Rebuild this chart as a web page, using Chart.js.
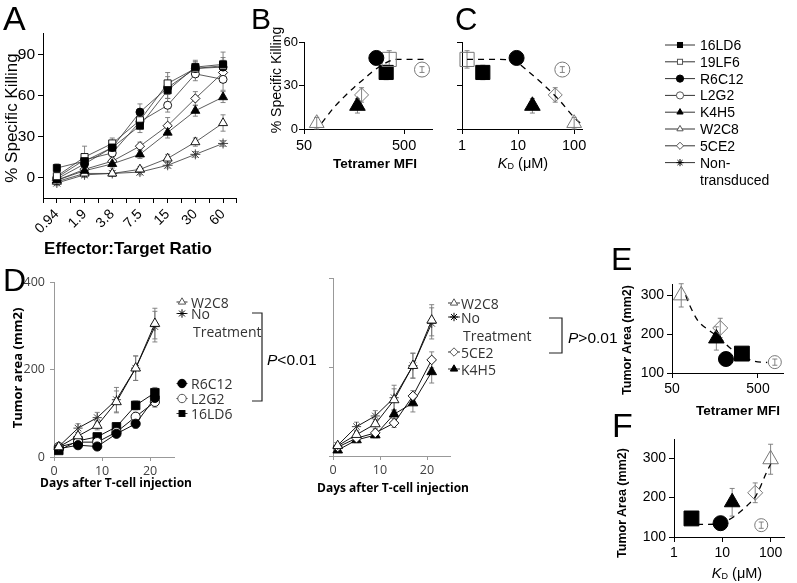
<!DOCTYPE html>
<html lang="en">
<head>
<meta charset="UTF-8" />
<title>TCR clones - killing and tumor growth</title>
<script src="https://cdn.jsdelivr.net/npm/chart.js"></script>
<style>
  body { margin: 0; background: #fff; width: 797px; height: 583px; position: relative; overflow: hidden; }
  canvas { position: absolute; }
  #overlay { position: absolute; left: 0; top: 0; pointer-events: none; }
</style>
</head>
<body>
<canvas id="chartA" width="243" height="215" style="left:0;top:23px"></canvas>
<canvas id="chartB" width="167" height="121" style="left:276px;top:30px"></canvas>
<canvas id="chartC" width="147" height="121" style="left:446px;top:30px"></canvas>
<canvas id="chartD1" width="159" height="207" style="left:22px;top:272px"></canvas>
<canvas id="chartD2" width="139" height="210" style="left:318px;top:268px"></canvas>
<canvas id="chartE" width="157" height="122" style="left:638px;top:273px"></canvas>
<canvas id="chartF" width="156" height="131" style="left:640px;top:428px"></canvas>
<svg id="overlay" width="797" height="583"></svg>

<script>
// ---- panel A: % specific killing vs effector:target ratio
const ratioLabels = ['0.94', '1.9', '3.8', '7.5', '15', '30', '60'];
const killing16LD6 = [7, 12, 22, 38, 64, 81, 83];
const killing19LF6 = [1, 15, 25, 42, 69, 80, 82];
const killingR6C12 = [-1, 10, 22, 48, 66, 80, 81];
const killingL2G2 = [0, 13, 18, 41, 53, 76, 72];
const killingK4H5 = [-2, 5, 10, 17, 33, 49, 59];
const killingW2C8 = [-3, 3, 3, 6, 14, 26, 40];
const killing5CE2 = [-2, 6, 12, 23, 38, 58, 77];
const killingNT = [-4, 2, 3, 4, 9, 17, 25];
const errA16LD6 = [3, 4, 4, 5, 6, 5, 5];
const errA19LF6 = [3, 8, 4, 5, 8, 4, 10];
const errAR6C12 = [2, 3, 3, 6, 8, 5, 5];
const errAL2G2 = [3, 4, 4, 5, 5, 5, 8];
const errAK4H5 = [2, 3, 3, 3, 4, 4, 4];
const errAW2C8 = [2, 2, 2, 2, 3, 3, 6];
const errA5CE2 = [2, 3, 3, 3, 6, 5, 5];
const errANT = [2, 2, 2, 2, 2, 2, 2];

// ---- panels B and C: killing vs tetramer MFI and KD
const scatterClones = ['16LD6', '19LF6', 'R6C12', 'L2G2', 'K4H5', 'W2C8', '5CE2'];
const tetramerMFI = [331, 355, 264, 755, 171, 67, 188];
const kdMicroM = [2.35, 1.23, 9.4, 61.5, 18, 100, 46];
const killingAt = [39, 48, 49, 41, 16, 4, 23.5];
const killingAtErr = [5, 6, 2, 2, 5, 4, 5];
const fitMfiX = [75, 100, 125, 160, 210, 245, 300, 360, 420, 600, 840];
const fitMfiY = [4, 15, 22, 29, 36, 40, 44, 47, 48, 48, 48];
const fitKdX = [1.23, 4.7, 9.4, 16, 29.5, 54, 100, 138];
const fitKdY = [48, 48, 46, 39, 30, 20, 8, 3];

// ---- panel D: tumor area vs days
const days = [1, 5, 9, 13, 17, 21];
const areaW2C8 = [23, 48, 72, 126, 203, 305];
const areaNoTreat = [24, 66, 90, 131, 203, 298];
const areaR6C12 = [19, 27, 24, 53, 76, 135];
const areaL2G2 = [23, 34, 34, 57, 92, 126];
const area16LD6 = [15, 37, 46, 69, 118, 147];
const area5CE2 = [20, 40, 52, 74, 135, 216];
const areaK4H5 = [13, 36, 47, 94, 119, 189];
const errW2C8 = [5, 8, 10, 25, 28, 35];
const errNoTreat = [5, 10, 12, 28, 28, 35];
const errR6C12 = [4, 6, 6, 8, 10, 12];
const errL2G2 = [4, 6, 6, 8, 10, 12];
const err16LD6 = [4, 6, 6, 8, 10, 12];
const err5CE2 = [4, 6, 8, 10, 12, 18];
const errK4H5 = [4, 6, 6, 10, 20, 25];

// ---- panels E and F: tumor area vs tetramer MFI and KD
const tumorClones = ['16LD6', 'R6C12', 'L2G2', 'K4H5', 'W2C8', '5CE2'];
const tetramerMFI_E = [325, 212, 785, 164, 64, 182];
const kdMicroM_F = [2.3, 9.2, 64, 16, 100, 48];
const tumorE = [150, 136, 128, 189, 300, 216];
const tumorF = [147, 135, 130, 188, 297, 212];
const tumorErrE = [10, 14, 8, 30, 30, 25];
const tumorErrF = [8, 15, 8, 35, 38, 25];
const fitTumorMfiX = [72, 80, 100, 135, 180, 235, 320, 460, 640];
const fitTumorMfiY = [300, 275, 235, 210, 190, 165, 145, 130, 127];
const fitTumorKdX = [3, 5, 8, 12, 19, 33, 50, 80, 105];
const fitTumorKdY = [132, 132, 133, 140, 155, 180, 205, 260, 290];

const legendNames = ['16LD6', '19LF6', 'R6C12', 'L2G2', 'K4H5', 'W2C8', '5CE2', 'Non-transduced'];

const markerStyle = {
  '16LD6': { style: 'rect', open: false },
  '19LF6': { style: 'rect', open: true },
  'R6C12': { style: 'circle', open: false },
  'L2G2': { style: 'circle', open: true },
  'K4H5': { style: 'triangle', open: false },
  'W2C8': { style: 'triangle', open: true },
  '5CE2': { style: 'rectRot', open: true },
  'Non-transduced': { style: 'star', open: false },
  'No Treatment': { style: 'star', open: false }
};

const ARIAL = "'Liberation Sans', Arial, sans-serif";
const CALIBRI = "'Open Sans', 'Liberation Sans', sans-serif";

// error bars under the markers
const errorBars = {
  id: 'errorBars',
  beforeDatasetsDraw(chart) {
    const ctx = chart.ctx;
    chart.data.datasets.forEach((ds, i) => {
      if (!ds.errors) return;
      const meta = chart.getDatasetMeta(i);
      const ys = chart.scales.y;
      ctx.save();
      ctx.strokeStyle = ds.errorColor || '#888';
      ctx.lineWidth = 0.9;
      meta.data.forEach((pt, j) => {
        const e = ds.errors[j];
        if (!e) return;
        const v = ds.data[j].y;
        const top = ys.getPixelForValue(v + e), bot = ys.getPixelForValue(v - e);
        ctx.beginPath();
        ctx.moveTo(pt.x, top); ctx.lineTo(pt.x, bot);
        ctx.moveTo(pt.x - 2.5, top); ctx.lineTo(pt.x + 2.5, top);
        ctx.moveTo(pt.x - 2.5, bot); ctx.lineTo(pt.x + 2.5, bot);
        ctx.stroke();
      });
      ctx.restore();
    });
  }
};
Chart.register(errorBars);

function axis(o) {
  return {
    type: o.type || 'linear',
    position: o.horizontal ? 'bottom' : 'left',
    min: o.min, max: o.max,
    afterBuildTicks: s => { s.ticks = o.ticks.map(v => ({ value: v })); },
    afterFit: s => {
      if (o.horizontal) s.height = o.size; else s.width = o.size;
      s.paddingLeft = s.paddingRight = s.paddingTop = s.paddingBottom = 0;
    },
    border: { display: true, color: o.line || '#000', width: 1 },
    grid: { drawOnChartArea: false, drawTicks: true, tickLength: o.tickLength || 5, color: o.line || '#000' },
    ticks: {
      autoSkip: false, minRotation: o.rotation || 0, maxRotation: o.rotation || 0,
      padding: o.padding ?? 3,
      font: { family: o.family || ARIAL, size: o.fontSize || 14 },
      color: o.color || '#000',
      callback: o.label || (v => String(v))
    }
  };
}

function makeChart(id, padTop, padRight, scales, datasets) {
  return new Chart(document.getElementById(id), {
    type: 'line',
    data: { datasets },
    options: {
      responsive: false, animation: false, events: [], devicePixelRatio: 1,
      layout: { padding: { top: padTop, right: padRight, left: 0, bottom: 0 } },
      plugins: { legend: { display: false }, tooltip: { enabled: false } },
      scales
    }
  });
}

function seriesLine(name, xs, ys, errs, sizes, lineColor, lineWidth) {
  const m = markerStyle[name];
  return {
    label: name,
    data: xs.map((x, i) => ({ x, y: ys[i] })),
    errors: errs,
    errorColor: '#777',
    borderColor: lineColor,
    borderWidth: lineWidth,
    pointStyle: m.style,
    pointRadius: sizes[m.style],
    pointBackgroundColor: m.open ? '#fff' : '#000',
    pointBorderColor: m.style === 'star' ? '#333' : '#000',
    pointBorderWidth: 0.9,
    clip: false
  };
}

function pointCloud(clones, xs, ys, errs, sizes) {
  return {
    data: xs.map((x, i) => ({ x, y: ys[i] })),
    errors: errs,
    errorColor: '#777',
    showLine: false,
    clip: false,
    pointStyle: clones.map(c => markerStyle[c].style),
    pointRadius: clones.map(c => sizes[c]),
    pointBackgroundColor: clones.map(c => markerStyle[c].open ? 'rgba(255,255,255,0)' : '#000'),
    pointBorderColor: clones.map(c => markerStyle[c].open ? '#777' : '#000'),
    pointBorderWidth: 1
  };
}

function fitLine(xs, ys) {
  return {
    data: xs.map((x, i) => ({ x, y: ys[i] })),
    borderColor: '#000', borderWidth: 1.3, borderDash: [6, 5],
    pointRadius: 0, cubicInterpolationMode: 'monotone', clip: false
  };
}

// ---- A
const idx = ratioLabels.map((_, i) => i);
const ratioTicks = idx.flatMap(i => [i - 0.5, i]).concat(ratioLabels.length - 0.5);
const sizesA = { rect: 5, circle: 4, triangle: 5.2, rectRot: 4.6, star: 5 };
const killingSets = [
  ['16LD6', killing16LD6, errA16LD6], ['19LF6', killing19LF6, errA19LF6],
  ['R6C12', killingR6C12, errAR6C12], ['L2G2', killingL2G2, errAL2G2],
  ['K4H5', killingK4H5, errAK4H5], ['W2C8', killingW2C8, errAW2C8],
  ['5CE2', killing5CE2, errA5CE2], ['Non-transduced', killingNT, errANT]
];
makeChart('chartA', 10, 6, {
  x: axis({ horizontal: true, min: -0.5, max: ratioLabels.length - 0.5, ticks: ratioTicks, size: 40,
    rotation: 45, fontSize: 14, label: v => Number.isInteger(v) ? ratioLabels[v] : '' }),
  y: axis({ min: -15, max: 106, ticks: [0, 30, 60, 90], size: 43, fontSize: 15.5 })
}, killingSets.map(([n, ys, e]) => seriesLine(n, idx, ys, e, sizesA, '#333', 0.8)));

// ---- B and C
const sizesBC = { '16LD6': 10, '19LF6': 10, 'R6C12': 7.5, 'L2G2': 7.5, 'K4H5': 9, 'W2C8': 8.5, '5CE2': 7 };
makeChart('chartB', 12, 10, {
  x: axis({ type: 'logarithmic', horizontal: true, min: 50, max: 950, ticks: [50, 500], size: 22, fontSize: 14.5 }),
  y: axis({ min: 0, max: 60, ticks: [0, 30, 60], size: 28, fontSize: 13, padding: 1 })
}, [pointCloud(scatterClones, tetramerMFI, killingAt, killingAtErr, sizesBC), fitLine(fitMfiX, fitMfiY)]);

makeChart('chartC', 12, 10, {
  x: axis({ type: 'logarithmic', horizontal: true, min: 1, max: 138, ticks: [1, 10, 100], size: 22, fontSize: 14.5 }),
  y: axis({ min: 0, max: 60, ticks: [0, 30, 60], size: 16, label: () => '' })
}, [pointCloud(scatterClones, kdMicroM, killingAt, killingAtErr, sizesBC), fitLine(fitKdX, fitKdY)]);

// ---- D
const sizesD = { rect: 6, circle: 4.6, triangle: 5.6, rectRot: 4.8, star: 4.6 };
const dAxisX = () => axis({ horizontal: true, min: 0, max: 25, ticks: [0, 10, 20], size: 22, family: CALIBRI,
  fontSize: 12.5, color: '#404040', line: '#999', tickLength: 4 });
makeChart('chartD1', 10, 4, {
  x: dAxisX(),
  y: axis({ min: 0, max: 400, ticks: [0, 200, 400], size: 32, family: CALIBRI, fontSize: 12.5,
    color: '#404040', line: '#999', tickLength: 4, padding: 5 })
}, [
  seriesLine('W2C8', days, areaW2C8, errW2C8, sizesD, '#111', 1),
  seriesLine('No Treatment', days, areaNoTreat, errNoTreat, sizesD, '#111', 1),
  seriesLine('R6C12', days, areaR6C12, errR6C12, sizesD, '#111', 1),
  seriesLine('L2G2', days, areaL2G2, errL2G2, sizesD, '#111', 1),
  seriesLine('16LD6', days, area16LD6, err16LD6, sizesD, '#111', 1)
]);
makeChart('chartD2', 10, 4, {
  x: dAxisX(),
  y: axis({ min: 0, max: 400, ticks: [0, 200, 400], size: 15, line: '#999', tickLength: 4, label: () => '' })
}, [
  seriesLine('W2C8', days, areaW2C8, errW2C8, sizesD, '#111', 1),
  seriesLine('No Treatment', days, areaNoTreat, errNoTreat, sizesD, '#111', 1),
  seriesLine('5CE2', days, area5CE2, err5CE2, sizesD, '#111', 1),
  seriesLine('K4H5', days, areaK4H5, errK4H5, sizesD, '#111', 1)
]);

// ---- E and F
const sizesEF = { '16LD6': 10.5, 'R6C12': 7.5, 'L2G2': 6.5, 'K4H5': 9, 'W2C8': 9, '5CE2': 7.5 };
makeChart('chartE', 10, 5, {
  x: axis({ type: 'logarithmic', horizontal: true, min: 50, max: 990, ticks: [50, 500], size: 22, fontSize: 14 }),
  y: axis({ min: 100, max: 328, ticks: [100, 200, 300], size: 34, fontSize: 14 })
}, [pointCloud(tumorClones, tetramerMFI_E, tumorE, tumorErrE, sizesEF), fitLine(fitTumorMfiX, fitTumorMfiY)]);

makeChart('chartF', 10, 3, {
  x: axis({ type: 'logarithmic', horizontal: true, min: 1, max: 194, ticks: [1, 10, 100], size: 22, fontSize: 14 }),
  y: axis({ min: 100, max: 347, ticks: [100, 200, 300], size: 34, fontSize: 14 })
}, [pointCloud(tumorClones, kdMicroM_F, tumorF, tumorErrF, sizesEF), fitLine(fitTumorKdX, fitTumorKdY)]);

// ---- text, legends and brackets
const parts = [];
function text(x, y, content, o = {}) {
  const rot = o.rotate ? ` rotate(${o.rotate})` : '';
  parts.push(`<text transform="translate(${x},${y})${rot}" text-anchor="${o.anchor || 'middle'}" ` +
    `dominant-baseline="${o.baseline || 'central'}" font-family="${o.family || ARIAL}" font-size="${o.size || 14}" ` +
    `font-weight="${o.bold ? 'bold' : 'normal'}" fill="${o.color || '#000'}">${content}</text>`);
}
function symbol(style, cx, cy, r, fill, stroke) {
  const a = `fill="${fill}" stroke="${stroke}" stroke-width="1"`;
  if (style === 'rect') return `<rect x="${cx - r}" y="${cy - r}" width="${2 * r}" height="${2 * r}" ${a}/>`;
  if (style === 'circle') return `<circle cx="${cx}" cy="${cy}" r="${r}" ${a}/>`;
  if (style === 'triangle') return `<polygon points="${cx},${cy - r} ${cx + r * 0.87},${cy + r * 0.5} ${cx - r * 0.87},${cy + r * 0.5}" ${a}/>`;
  if (style === 'rectRot') return `<polygon points="${cx},${cy - r} ${cx + r},${cy} ${cx},${cy + r} ${cx - r},${cy}" ${a}/>`;
  const d = r * 0.7;
  return `<path d="M${cx - r},${cy}H${cx + r}M${cx},${cy - r}V${cy + r}M${cx - d},${cy - d}L${cx + d},${cy + d}M${cx - d},${cy + d}L${cx + d},${cy - d}" stroke="${stroke}" stroke-width="1"/>`;
}
function legendRow(name, x, cy, half, r, label, font, size, tx, color) {
  const m = markerStyle[name];
  parts.push(`<line x1="${x - half}" y1="${cy}" x2="${x + half}" y2="${cy}" stroke="#333" stroke-width="1"/>`);
  parts.push(symbol(m.style, x, cy, m.style === 'rect' ? r * 0.7 : r, m.open ? '#fff' : '#000', m.open ? '#555' : '#000'));
  text(tx, cy, label, { anchor: 'start', family: font, size, color });
}

// panel letters
text(3, 30, 'A', { anchor: 'start', baseline: 'alphabetic', size: 34 });
text(251, 29, 'B', { anchor: 'start', baseline: 'alphabetic', size: 30 });
text(455, 30, 'C', { anchor: 'start', baseline: 'alphabetic', size: 31 });
text(3, 291, 'D', { anchor: 'start', baseline: 'alphabetic', size: 32 });
text(611, 270, 'E', { anchor: 'start', baseline: 'alphabetic', size: 32 });
text(612, 437, 'F', { anchor: 'start', baseline: 'alphabetic', size: 34 });

// axis titles
const kdTitle = '<tspan font-style="italic">K</tspan><tspan dy="3" font-size="9">D</tspan><tspan dy="-3"> (μM)</tspan>';
text(11, 118, '% Specific Killing', { rotate: -90, size: 17 });
text(128, 248, 'Effector:Target Ratio', { bold: true, size: 17 });
text(276, 80, '% Specific Killing', { rotate: -90, size: 14 });
text(375, 163, 'Tetramer MFI', { bold: true, size: 13.5 });
text(523, 163, kdTitle, { size: 14.5 });
text(17, 368, 'Tumor area (mm2)', { rotate: -90, bold: true, family: CALIBRI, size: 13 });
text(116, 482, 'Days after T-cell injection', { bold: true, family: CALIBRI, size: 12 });
text(393, 487, 'Days after T-cell injection', { bold: true, family: CALIBRI, size: 12 });
text(627, 340, 'Tumor Area (mm2)', { rotate: -90, bold: true, size: 12.5 });
text(738, 410, 'Tetramer MFI', { bold: true, size: 13.5 });
text(622, 503, 'Tumor Area (mm2)', { rotate: -90, bold: true, size: 12.5 });
text(737, 573, kdTitle, { size: 14.5 });

// clone legend
legendNames.forEach((name, i) => {
  const cy = 45 + i * 16.8;
  legendRow(name, 680, cy, 15, 3.6, name === 'Non-transduced' ? 'Non-' : name, ARIAL, 14, 700, '#000');
});
text(700, 45 + 8 * 16.8 + 1, 'transduced', { anchor: 'start', size: 14 });

// D legends
[['W2C8', 302], ['No Treatment', 313.5], ['R6C12', 383.5], ['L2G2', 398.5], ['16LD6', 413.5]].forEach(([n, cy]) =>
  legendRow(n, 182, cy, 5.5, 4.2, n === 'No Treatment' ? 'No' : n, CALIBRI, 14, 191, '#333'));
text(193, 331, 'Treatment', { anchor: 'start', family: CALIBRI, size: 14, color: '#333' });
[['W2C8', 303], ['No Treatment', 317], ['5CE2', 352], ['K4H5', 369]].forEach(([n, cy]) =>
  legendRow(n, 454, cy, 6, 4.2, n === 'No Treatment' ? 'No' : n, CALIBRI, 14, 461, '#333'));
text(463, 335, 'Treatment', { anchor: 'start', family: CALIBRI, size: 14, color: '#333' });

// significance brackets
parts.push('<path d="M252,313H262V401H252" fill="none" stroke="#222" stroke-width="1.2"/>');
parts.push('<path d="M549,318H562V353H549" fill="none" stroke="#222" stroke-width="1.2"/>');
text(267, 359, '<tspan font-style="italic">P</tspan>&lt;0.01', { anchor: 'start', size: 15.5 });
text(568, 337, '<tspan font-style="italic">P</tspan>&gt;0.01', { anchor: 'start', size: 15.5 });

document.getElementById('overlay').innerHTML = parts.join('');
</script>
</body>
</html>
